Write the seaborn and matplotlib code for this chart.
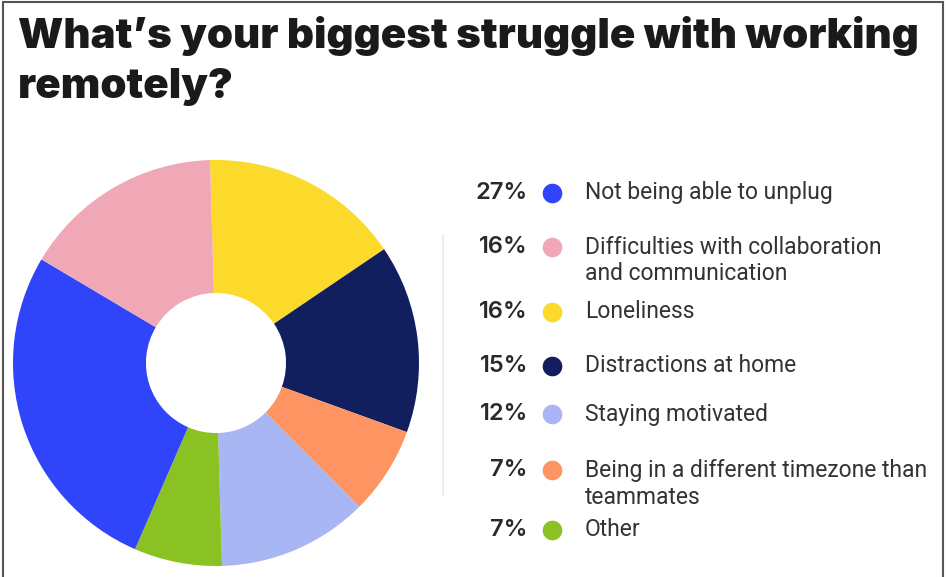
import matplotlib
matplotlib.use("Agg")
import matplotlib.pyplot as plt
import seaborn as sns
from matplotlib.lines import Line2D

# ---- data ----
categories = [
    "Not being able to unplug",
    "Difficulties with collaboration\nand communication",
    "Loneliness",
    "Distractions at home",
    "Staying motivated",
    "Being in a different timezone than\nteammates",
    "Other",
]
percentages = [27, 16, 16, 15, 12, 7, 7]
colors = ["#3045FA", "#F0A8B6", "#FBDA2C", "#121F5E", "#A9B6F4", "#FE9462", "#8AC223"]
# clockwise order of the slices starting at 12 o'clock
pie_order = [2, 3, 5, 4, 6, 0, 1]
title_lines = ["What\u2019s your biggest struggle with working", "remotely?"]

sns.set_theme(style="white")
plt.rcParams["font.family"] = ["Roboto", "DejaVu Sans"]

W, H = 948, 577
fig = plt.figure(figsize=(W / 100, H / 100), dpi=100)
fig.patch.set_facecolor("white")

# donut
ax = fig.add_axes([13 / W, 11 / H, 406 / W, 406 / H])
vals = [percentages[i] for i in pie_order]
cols = [colors[i] for i in pie_order]
ax.pie(vals, colors=cols, startangle=91.7, counterclock=False, radius=1.0,
       wedgeprops=dict(width=0.655, linewidth=0))
ax.set_xlim(-1.0, 1.0)
ax.set_ylim(-1.0, 1.0)
ax.set_axis_off()

# legend area in pixel-like coordinates
lax = fig.add_axes([0, 0, 1, 1])
lax.set_xlim(0, W)
lax.set_ylim(H, 0)
lax.set_axis_off()
lax.patch.set_alpha(0)

row_y = [193, 247, 312, 366, 414, 470, 530]
line_gap = 27
for i, (cat, pct, col) in enumerate(zip(categories, percentages, colors)):
    y = row_y[i]
    lax.text(528, y, f"{pct}%", ha="right", va="center", fontsize=17,
             fontweight="semibold", color="#2a2a2a", family=["Inter", "DejaVu Sans"])
    lax.scatter([552], [y], s=200, color=col, linewidths=0, zorder=3)
    lines = cat.split("\n")
    for k, ln in enumerate(lines):
        lax.text(585, y + k * line_gap, ln, ha="left", va="center",
                 fontsize=16.5, color="#333333")

# faint divider
lax.add_line(Line2D([443, 443], [235, 495], color="#EEEEEE", linewidth=1.6))

# frame
frame_col = "#555555"
lax.add_line(Line2D([3, 3], [2, H], color=frame_col, linewidth=1.5))
lax.add_line(Line2D([3, 943], [2, 2], color=frame_col, linewidth=1.5))
lax.add_line(Line2D([943, 943], [2, H], color=frame_col, linewidth=1.5))

# title
for k, ln in enumerate(title_lines):
    lax.text(18, 48 + k * 50, ln, ha="left", va="baseline", fontsize=30.2,
             fontweight="black", color="#1a1a1a", family=["Inter", "DejaVu Sans"])

fig.savefig("out.png", dpi=100, facecolor="white")
